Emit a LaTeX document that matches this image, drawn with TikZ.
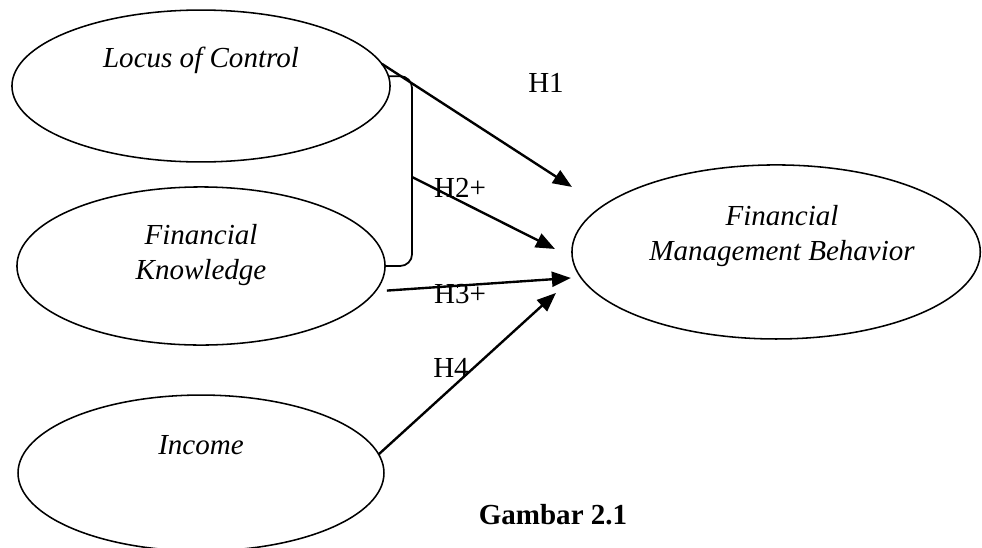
\documentclass[tikz,border=0pt]{standalone}
\usepackage{fontspec}
\setmainfont{Liberation Serif}
\usetikzlibrary{arrows.meta, positioning, calc, shapes.geometric}

\begin{document}
\begin{tikzpicture}[
		x=0.42pt, y=-0.42pt,
		var/.style={ellipse, draw, line width=0.65pt, inner sep=0pt, outer sep=0pt},
		vtext/.style={align=center, font=\fontsize{12.2}{14.6}\selectfont\itshape, inner sep=0pt},
		hyp/.style={font=\fontsize{12.2}{14.6}\selectfont, inner sep=0pt},
		arrow/.style={-{Triangle[length=8pt, width=6.3pt]}, line width=1pt},
		brace/.style={line width=0.75pt, rounded corners=5pt}
		]
		\useasboundingbox (0,0) rectangle (982,548);
		\node[var, minimum width=158.8pt, minimum height=63.8pt] (loc) at (201,86) {};
		\node[var, minimum width=154.6pt, minimum height=66.4pt, below=10.5pt of loc] (kn) {};
		\node[var, minimum width=153.7pt, minimum height=65.5pt, below=21pt of kn] (inc) {};
		\node[var, minimum width=171.5pt, minimum height=73.1pt, right=78.5pt of kn, yshift=5.9pt] (fmb) {};

		\node[vtext] (loctext) at ([yshift=10.9pt]loc.center) {Locus of Control};
		\node[vtext] (kntext) at ([yshift=4.6pt]kn.center) {Financial\\Knowledge};
		\node[vtext] (inctext) at ([yshift=11.8pt]inc.center) {Income};
		\node[vtext] (fmbtext) at ([xshift=2.5pt, yshift=6.7pt]fmb.center) {Financial\\Management Behavior};

		\coordinate (t1) at ($(fmb.west)+(0,-65)$);
		\coordinate (t2) at ($(fmb.west)+(-17,-3)$);
		\coordinate (t3) at ($(fmb.west)+(-1,26)$);
		\coordinate (t4) at ($(fmb.west)+(-16,41)$);
		\coordinate (brkmid) at ($(kn.east)+(27,-89)$);

		\draw[brace] (loc.3) -| ($(kn.east)+(27,0)$) -- (kn.east);
		\draw[arrow] (loc.7) -- (t1);
		\draw[arrow] (brkmid) -- (t2);
		\draw[arrow] ($(kn.-8)+(11,0)$) -- (t3);
		\draw[arrow] (inc.6) -- (t4);

		\node[hyp] (h1) at (546,83) {H1};
		\node[hyp] (h2) at (460,188) {H2+};
		\node[hyp] (h3) at (460,294) {H3+};
		\node[hyp] (h4) at (451,368) {H4};
		\node[hyp, font=\fontsize{12.2}{14.6}\selectfont\bfseries] (fig) at (553,515) {Gambar 2.1};
	\end{tikzpicture}
\end{document}
